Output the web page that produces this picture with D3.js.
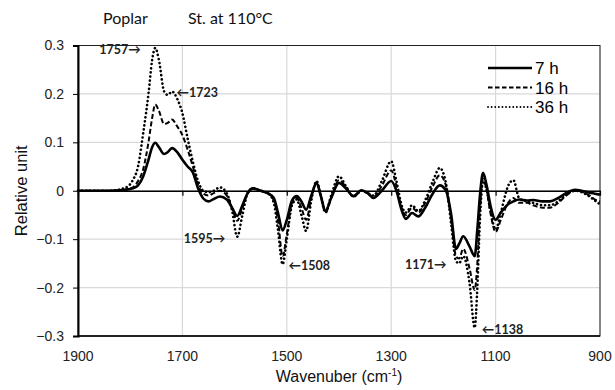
<!DOCTYPE html>
<html>
<head>
<meta charset="utf-8">
<script src="https://cdn.jsdelivr.net/npm/d3@7"></script>
<style>
  body { margin: 0; background: #fff; }
  svg { display: block; }
</style>
</head>
<body>
<div id="chart"></div>
<script>
// wavenumbers (cm-1) shared by the three spectra
var wavenumbers = [1900, 1840, 1810, 1795, 1785, 1775, 1765, 1758, 1752, 1745, 1735, 1728, 1720, 1710,
  1700, 1690, 1680, 1670, 1660, 1650, 1640, 1628, 1615, 1605, 1595, 1585, 1575, 1565, 1550, 1535,
  1525, 1517, 1508, 1500, 1490, 1481, 1472, 1463, 1453, 1443, 1435, 1426, 1415, 1400, 1387, 1372,
  1357, 1345, 1334, 1318, 1300, 1290, 1280, 1272, 1260, 1248, 1235, 1220, 1207, 1195, 1185, 1176,
  1170, 1162, 1150, 1140, 1135, 1130, 1124, 1117, 1110, 1100, 1090, 1076, 1066, 1055, 1040, 1028,
  1010, 996, 980, 965, 948, 935, 920, 910, 900];

var h7 = [0, 0, 0.002, 0.005, 0.011, 0.03, 0.064, 0.09, 0.099, 0.09, 0.076, 0.08, 0.088, 0.08,
  0.064, 0.05, 0.038, 0.005, -0.016, -0.022, -0.017, -0.012, -0.018, -0.035, -0.052, -0.03, -0.005, 0.005, 0, -0.006,
  -0.015, -0.045, -0.082, -0.06, -0.02, -0.011, -0.022, -0.039, -0.01, 0.016, -0.01, -0.042, -0.015, 0.016, 0.005, -0.011,
  0.001, -0.005, -0.015, 0, 0.02, 0, -0.04, -0.058, -0.046, -0.053, -0.035, -0.005, 0.011, 0, -0.05, -0.12,
  -0.11, -0.094, -0.115, -0.135, -0.08, -0.01, 0.037, 0.01, -0.03, -0.06, -0.045, -0.028, -0.022, -0.018, -0.02, -0.019,
  -0.022, -0.022, -0.015, -0.005, 0.002, 0, -0.004, -0.006, -0.008];

var h16 = [0, 0, 0.002, 0.007, 0.02, 0.045, 0.1, 0.15, 0.178, 0.165, 0.138, 0.14, 0.147, 0.133,
  0.115, 0.085, 0.05, 0.012, -0.006, -0.01, -0.005, 0, -0.01, -0.035, -0.062, -0.035, -0.005, 0.005, 0, -0.006,
  -0.02, -0.06, -0.135, -0.09, -0.025, -0.015, -0.035, -0.06, -0.015, 0.018, -0.01, -0.045, -0.015, 0.022, 0.008, -0.012,
  0, -0.005, -0.013, 0.01, 0.042, 0.01, -0.035, -0.05, -0.035, -0.045, -0.025, 0.01, 0.032, 0.01, -0.06, -0.135,
  -0.14, -0.12, -0.16, -0.205, -0.15, -0.04, 0.025, 0, -0.045, -0.085, -0.06, -0.025, -0.015, -0.025, -0.025, -0.03,
  -0.035, -0.035, -0.025, -0.01, 0, -0.002, -0.01, -0.018, -0.022];

var h36 = [0, 0, 0.006, 0.022, 0.05, 0.12, 0.2, 0.27, 0.295, 0.27, 0.205, 0.198, 0.205, 0.19,
  0.16, 0.108, 0.06, 0.02, 0, -0.003, 0, 0.007, -0.005, -0.04, -0.095, -0.05, -0.005, 0.005, 0, -0.006,
  -0.025, -0.08, -0.152, -0.1, -0.03, -0.018, -0.05, -0.083, -0.02, 0.02, -0.01, -0.045, -0.01, 0.03, 0.01, -0.012,
  0, -0.005, -0.01, 0.02, 0.061, 0.02, -0.03, -0.045, -0.03, -0.042, -0.02, 0.02, 0.047, 0.015, -0.07, -0.145,
  -0.15, -0.135, -0.19, -0.283, -0.2, -0.06, 0.02, 0, -0.04, -0.08, -0.045, 0.01, 0.022, -0.015, -0.022, -0.025,
  -0.03, -0.03, -0.022, -0.008, 0, -0.003, -0.012, -0.02, -0.028];

var seriesNames = ["7 h", "16 h", "36 h"];
var xTicks = [1900, 1700, 1500, 1300, 1100, 900];
var yTicks = [-0.3, -0.2, -0.1, 0, 0.1, 0.2, 0.3];
var peakLabels = [
  {wn: 1757, v: 0.295, text: "1757\u2192", side: "left"},
  {wn: 1723, v: 0.205, text: "\u21901723", side: "right"},
  {wn: 1595, v: -0.095, text: "1595\u2192", side: "left"},
  {wn: 1508, v: -0.152, text: "\u21901508", side: "right"},
  {wn: 1171, v: -0.15, text: "1171\u2192", side: "left"},
  {wn: 1138, v: -0.283, text: "\u21901138", side: "right"}
];

var width = 615, height = 390;
var margin = {top: 45.5, right: 15, bottom: 54, left: 78};
var sans = "'Liberation Sans', Arial, sans-serif";
var calib = "Lato, 'Noto Sans', sans-serif";

var svg = d3.select("#chart").append("svg")
    .attr("width", width)
    .attr("height", height);

var x = d3.scaleLinear().domain([1900, 900]).range([margin.left, width - margin.right]);
var y = d3.scaleLinear().domain([-0.3, 0.3]).range([height - margin.bottom, margin.top]);

// gridlines
svg.append("g").selectAll("line.h")
    .data(yTicks)
  .enter().append("line")
    .attr("x1", x(1900)).attr("x2", x(900))
    .attr("y1", d => y(d)).attr("y2", d => y(d))
    .attr("stroke", "#d9d9d9").attr("stroke-width", 1.2);
svg.append("g").selectAll("line.v")
    .data(xTicks)
  .enter().append("line")
    .attr("x1", d => x(d)).attr("x2", d => x(d))
    .attr("y1", y(0.3)).attr("y2", y(-0.3))
    .attr("stroke", "#d9d9d9").attr("stroke-width", 1.2);

// frame top/right
svg.append("rect")
    .attr("x", x(1900)).attr("y", y(0.3))
    .attr("width", x(900) - x(1900)).attr("height", y(-0.3) - y(0.3))
    .attr("fill", "none").attr("stroke", "#222").attr("stroke-width", 1);

// y axis
var yAxis = svg.append("g")
    .attr("transform", "translate(" + x(1900) + ",0)")
    .call(d3.axisLeft(y).tickValues(yTicks).tickSize(5).tickPadding(9)
      .tickFormat(d => d === 0 ? "0" : d3.format(".1f")(d)));
yAxis.attr("font-family", sans);
yAxis.select(".domain").attr("stroke", "#000").attr("stroke-width", 2);
yAxis.selectAll(".tick line").attr("stroke", "#000");
yAxis.selectAll("text").style("font-family", sans)
    .attr("font-size", 14).attr("fill", "#222");

// bottom line + labels
svg.append("line")
    .attr("x1", x(1900)).attr("x2", x(900))
    .attr("y1", y(-0.3)).attr("y2", y(-0.3))
    .attr("stroke", "#000").attr("stroke-width", 1.5);
svg.append("g").selectAll("text")
    .data(xTicks)
  .enter().append("text")
    .attr("x", d => x(d)).attr("y", y(-0.3) + 25)
    .attr("text-anchor", "middle")
    .style("font-family", sans)
    .attr("font-size", 14).attr("fill", "#222")
    .text(d => d);

// zero line with ticks
var zeroAxis = svg.append("g")
    .attr("transform", "translate(0," + y(0) + ")")
    .call(d3.axisBottom(x).tickValues(xTicks).tickSize(5).tickSizeOuter(0).tickFormat(""));
zeroAxis.select(".domain").attr("stroke", "#000").attr("stroke-width", 1.5);
zeroAxis.selectAll(".tick line").attr("stroke", "#000").attr("stroke-width", 1.2);

// spectra
var line = d3.line()
    .x((d, i) => x(wavenumbers[i]))
    .y(d => y(d))
    .curve(d3.curveMonotoneX);

var styles = [
  {data: h7, dash: null, w: 2.6, cap: "butt"},
  {data: h16, dash: "5,2.5", w: 2, cap: "butt"},
  {data: h36, dash: "0.1,4", w: 2.6, cap: "round"}
];

svg.append("g").selectAll("path")
    .data(styles)
  .enter().append("path")
    .attr("d", d => line(d.data))
    .attr("fill", "none")
    .attr("stroke", "#000")
    .attr("stroke-width", d => d.w)
    .attr("stroke-dasharray", d => d.dash)
    .attr("stroke-linecap", d => d.cap)
    .attr("stroke-linejoin", "round");

// legend
var legend = svg.append("g").selectAll("g")
    .data(styles)
  .enter().append("g")
    .attr("transform", (d, i) => "translate(488," + (68 + i * 19.5) + ")");
legend.append("line")
    .attr("x1", 0).attr("x2", 44)
    .attr("stroke", "#000")
    .attr("stroke-width", d => d.w === 2.6 && !d.dash ? 2.4 : 1.8)
    .attr("stroke-dasharray", d => d.dash ? (d.cap === "round" ? "0.1,3.5" : "4.5,2.5") : null)
    .attr("stroke-linecap", d => d.cap);
legend.append("text")
    .attr("x", 47).attr("y", 6)
    .style("font-family", sans)
    .attr("font-size", 17).attr("fill", "#000")
    .text((d, i) => seriesNames[i]);

// peak labels
svg.append("g").selectAll("text")
    .data(peakLabels)
  .enter().append("text")
    .attr("x", d => d.side === "left" ? x(d.wn) - 12 : x(d.wn) + 6)
    .attr("y", d => y(d.v) + 6)
    .attr("text-anchor", d => d.side === "left" ? "end" : "start")
    .style("font-family", calib)
    .attr("font-size", 12.5).attr("font-weight", "bold").attr("fill", "#222")
    .text(d => d.text);

// titles
svg.append("text")
    .attr("x", 103).attr("y", 24)
    .style("font-family", calib)
    .attr("font-size", 16).attr("fill", "#111")
    .text("Poplar");
svg.append("text")
    .attr("x", 188).attr("y", 24)
    .style("font-family", calib)
    .attr("font-size", 16).attr("fill", "#111")
    .text("St. at 110\u00B0C");

var xt = svg.append("text")
    .attr("x", (x(1900) + x(900)) / 2).attr("y", 382)
    .attr("text-anchor", "middle")
    .style("font-family", sans)
    .attr("font-size", 16).attr("fill", "#111");
xt.append("tspan").text("Wavenuber (cm");
xt.append("tspan").attr("dy", -6).attr("font-size", 10).text("-1");
xt.append("tspan").attr("dy", 6).text(")");

svg.append("text")
    .attr("transform", "translate(27," + y(0) + ") rotate(-90)")
    .attr("text-anchor", "middle")
    .style("font-family", sans)
    .attr("font-size", 16.5).attr("fill", "#111")
    .text("Relative unit");
</script>
</body>
</html>
